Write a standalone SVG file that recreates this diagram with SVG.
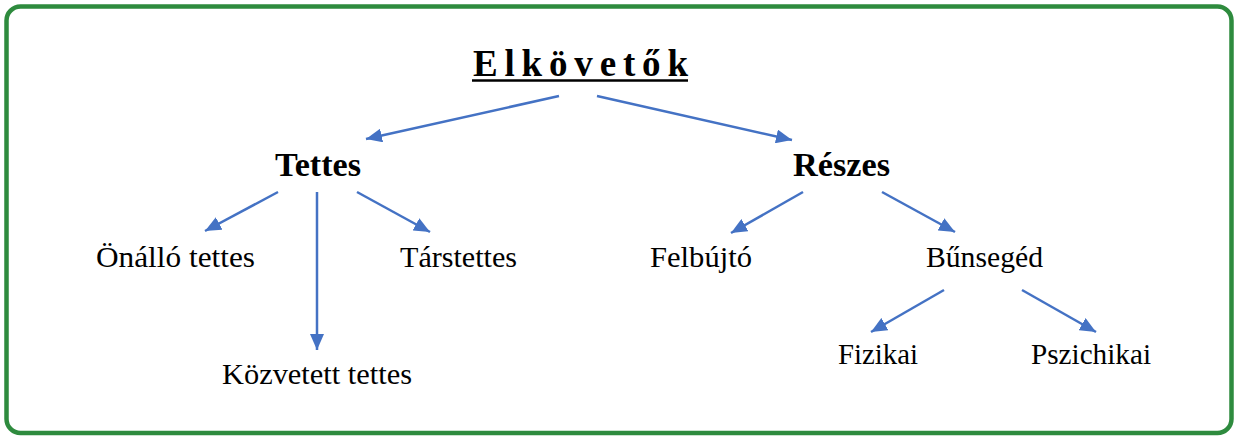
<svg xmlns="http://www.w3.org/2000/svg" width="1235" height="439" viewBox="0 0 1235 439">
<style>
.t{font-family:"Liberation Serif","Times New Roman",serif;fill:#000}
.n{font-size:29px}
.b{font-size:33px;font-weight:bold}
.c{stroke:#4472C4;stroke-width:2.5;fill:none;marker-end:url(#ah)}
</style>
<defs>
<marker id="ah" markerUnits="userSpaceOnUse" markerWidth="18" markerHeight="14" refX="16" refY="7" orient="auto">
<path d="M0,0 L16,7 L0,14 Z" fill="#4472C4"/>
</marker>
</defs>
<rect x="6.5" y="6.5" width="1225" height="426.5" rx="14" fill="#fff" stroke="#2E8B3E" stroke-width="4.5"/>
<g id="connectors">
<line class="c" x1="559" y1="96" x2="366" y2="139"/>
<line class="c" x1="597" y1="96" x2="792" y2="140"/>
<line class="c" x1="278" y1="192" x2="205" y2="231"/>
<line class="c" x1="317" y1="192" x2="317" y2="350"/>
<line class="c" x1="357" y1="192" x2="430" y2="232"/>
<line class="c" x1="803" y1="192" x2="731" y2="233"/>
<line class="c" x1="882" y1="192" x2="955" y2="232"/>
<line class="c" x1="944" y1="290" x2="871" y2="332"/>
<line class="c" x1="1022" y1="290" x2="1096" y2="332"/>
</g>
<g id="elkovetok">
<text class="t" x="473" y="76" font-size="37" font-weight="bold" textLength="215" lengthAdjust="spacing">Elkövetők</text>
<line x1="472" y1="80.5" x2="688" y2="80.5" stroke="#000" stroke-width="2.5"/>
</g>
<g id="tettes"><text class="t b" x="275" y="176" textLength="86" lengthAdjust="spacingAndGlyphs">Tettes</text></g>
<g id="reszes"><text class="t b" x="793" y="176" textLength="97" lengthAdjust="spacingAndGlyphs">Részes</text></g>
<g id="onallo"><text class="t n" x="96" y="267" textLength="159" lengthAdjust="spacingAndGlyphs">Önálló tettes</text></g>
<g id="tarstettes"><text class="t n" x="400" y="267" textLength="117" lengthAdjust="spacingAndGlyphs">Társtettes</text></g>
<g id="kozvetett"><text class="t n" x="222" y="384" textLength="190" lengthAdjust="spacingAndGlyphs">Közvetett tettes</text></g>
<g id="felbujto"><text class="t n" x="650" y="267" textLength="102" lengthAdjust="spacingAndGlyphs">Felbújtó</text></g>
<g id="bunseged"><text class="t n" x="926" y="267" textLength="117" lengthAdjust="spacingAndGlyphs">Bűnsegéd</text></g>
<g id="fizikai"><text class="t n" x="838" y="364" textLength="80" lengthAdjust="spacingAndGlyphs">Fizikai</text></g>
<g id="pszichikai"><text class="t n" x="1031" y="364" textLength="120" lengthAdjust="spacingAndGlyphs">Pszichikai</text></g>
</svg>
